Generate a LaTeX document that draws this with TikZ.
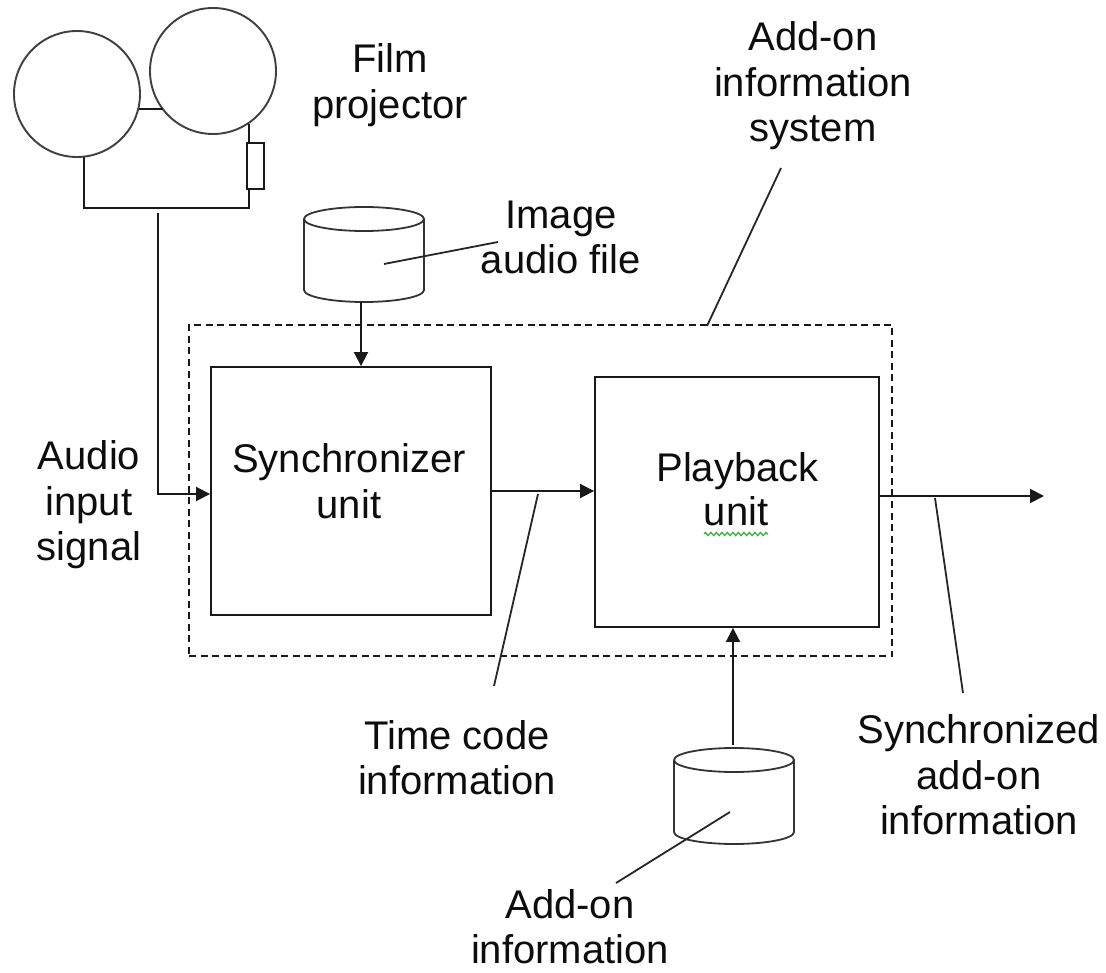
\documentclass[tikz,border=0pt]{standalone}
\usepackage{fontspec}
\setmainfont{Liberation Sans}
\usetikzlibrary{arrows.meta,decorations.pathmorphing}
\tikzset{
  ln/.style={draw=black!90,line width=1.9pt},
  arr/.style={ln,-{Triangle[length=14pt,width=14pt]},shorten >=0pt},
  lead/.style={draw=black!85,line width=1.8pt},
  txt/.style={align=center,inner sep=0pt,font=\fontsize{40}{45.5}\selectfont,text=black!95},
  boxn/.style={ln,rectangle,inner sep=0pt},
  reel/.style={draw=black!75,line width=1.9pt,circle,inner sep=0pt,minimum size=126pt},
  cyl/.style={draw=black!80,line width=1.8pt},
  squig/.style={draw=green!60!black!80,line width=1.2pt,decorate,decoration={zigzag,segment length=5.5pt,amplitude=1.6pt}}
}
\begin{document}
\begin{tikzpicture}[x=1pt,y=-1pt]
\useasboundingbox (0,0) rectangle (1106,973);
\fill[white] (0,0) rectangle (1106,973);

% dashed enclosure and boxes
\node[draw=black!90,line width=1.6pt,dash pattern=on 7pt off 4.5pt,inner sep=0pt,minimum width=703pt,minimum height=331pt] (sys) at (540.5,490.5) {};
\node[boxn,minimum width=280pt,minimum height=248pt] (sync) at (351,491) {};
\node[boxn,minimum width=284pt,minimum height=250pt] (play) at (737,502) {};

% projector
\node[reel] (reelL) at (77,94) {};
\node[reel] (reelR) at (213,71) {};
\node[boxn,minimum width=17pt,minimum height=46pt] (res) at (255.5,166) {};
\coordinate (lA) at (139,109); \coordinate (lB) at (163,109);
\coordinate (rT) at (249,124); \coordinate (rTb) at (249,143);
\coordinate (rB) at (249,189); \coordinate (rC) at (249,208);
\coordinate (lD) at (84,157); \coordinate (lC) at (84,208);
\draw[ln] (lA) -- (lB);
\draw[ln] (rT) -- (rTb);
\draw[ln] (lD) -- (lC) -- (rC) -- (rB);

% cylinders
\draw[cyl] (304,219) arc[start angle=180,end angle=0,x radius=60,y radius=12]
  arc[start angle=0,end angle=-180,x radius=60,y radius=12] -- (304,290)
  arc[start angle=180,end angle=0,x radius=60,y radius=12] -- (424,219);
\coordinate (cyl1) at (361,302);
\draw[cyl] (674,760) arc[start angle=180,end angle=0,x radius=60,y radius=12]
  arc[start angle=0,end angle=-180,x radius=60,y radius=12] -- (674,832)
  arc[start angle=180,end angle=0,x radius=60,y radius=12] -- (794,760);
\coordinate (cyl2) at (733,745);

% arrows
\coordinate (aud0) at (158,213); \coordinate (aud1) at (158,494);
\draw[arr] (aud0) -- (aud1) -- (sync.west |- aud1);
\draw[arr] (cyl1) -- (cyl1 |- sync.north);
\coordinate (sOut) at (sync.east |- 0,491);
\draw[arr] (sOut) -- (play.west |- sOut);
\coordinate (pOut) at (play.east |- 0,496); \coordinate (pEnd) at (1044,496);
\draw[arr] (pOut) -- (pEnd);
\draw[arr] (cyl2) -- (cyl2 |- play.south);

% texts
\node[txt] (tFilm) at (390,85) {Film\\projector};
\node[txt] (tSys) at (813,86) {Add-on\\information\\system};
\node[txt] (tImg) at (561,237.5) {Image\\audio file};
\node[txt] (tAud) at (89,505) {Audio\\input\\signal};
\node[txt] (tSync) at (349,481) {Synchronizer\\unit};
\node[txt,align=none,anchor=base] (tPlay) at (737.5,482) {Playback};
\node[txt,align=none,anchor=base] (tUnit) at (736,525) {unit};
\node[txt] (tTime) at (457,757.5) {Time code\\information};
\node[txt] (tOut) at (979,775) {Synchronized\\add-on\\information};
\node[txt,text depth=0pt,anchor=south] (tAdd) at (570,964) {Add-on\\information};
\coordinate (sq0) at (704,534); \coordinate (sq1) at (768,534);
\draw[squig] (sq0) -- (sq1);

% leader lines
\coordinate (i0) at (384,264); \coordinate (i1) at (498,242);
\coordinate (s0) at (707,326); \coordinate (s1) at (781,168);
\coordinate (t0) at (538,494); \coordinate (t1) at (494,686);
\coordinate (o0) at (935,498); \coordinate (o1) at (963,693);
\coordinate (a0) at (730,812); \coordinate (a1) at (616,883);
\draw[lead] (i0) -- (i1);
\draw[lead] (s0) -- (s1);
\draw[lead] (t0) -- (t1);
\draw[lead] (o0) -- (o1);
\draw[lead] (a0) -- (a1);
\end{tikzpicture}
\end{document}
